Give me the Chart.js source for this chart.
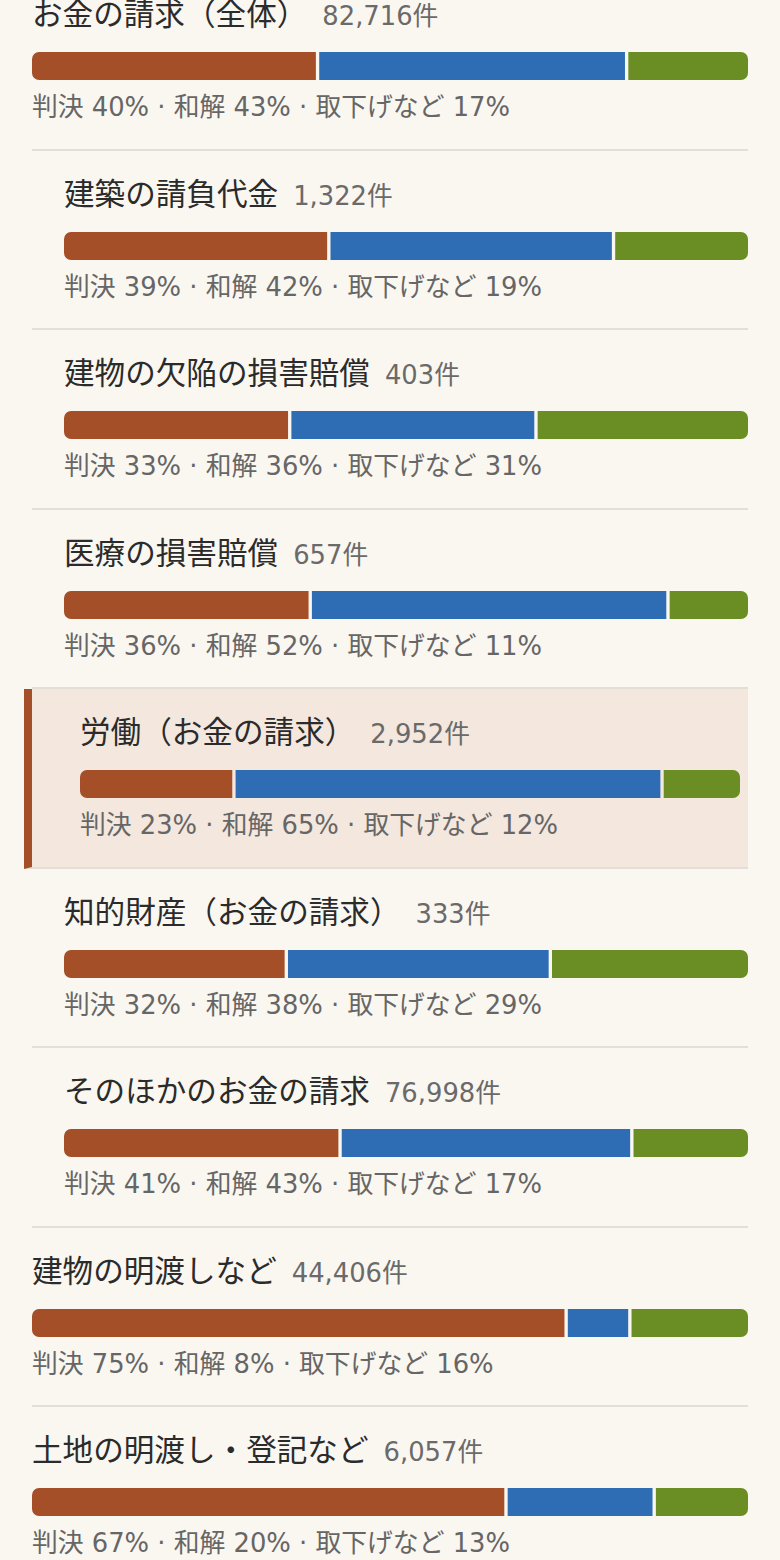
<!DOCTYPE html>
<html lang="ja">
<head>
<meta charset="utf-8">
<title>お金の請求 判決・和解・取下げの割合</title>
<script src="https://cdn.jsdelivr.net/npm/chart.js@4/dist/chart.umd.min.js"></script>
<style>
  html, body {
    margin: 0;
    padding: 0;
    background: #faf7f1;
    font-family: "DejaVu Sans", "Noto Sans CJK JP", sans-serif;
  }
  body {
    width: 780px;
    height: 1560px;
    overflow: hidden;
    position: relative;
  }
  #list {
    position: absolute;
    left: 32px;
    top: -29px;
    width: 716px;
  }
  .row {
    position: relative;
    box-sizing: border-box;
    height: 179.5px;
    border-bottom: 2px solid #e3ded6;
  }
  .row.sub { padding-left: 32px; }
  .row.hl {
    margin-left: -8px;
    border-left: 8px solid #a44f27;
    background: #f3e7de;
    padding-left: 48px;
    padding-right: 8px;
  }
  .head {
    position: absolute;
    top: 26px;
    line-height: 36px;
    white-space: nowrap;
  }
  .name {
    font-size: 30.6px;
    color: #2b2b2b;
  }
  .count {
    font-size: 25.8px;
    color: #6a6a6a;
    margin-left: 15px;
  }
  .bar {
    position: absolute;
    top: 81px;
    height: 28px;
  }
  .bar canvas { display: block; }
  .caption {
    position: absolute;
    top: 120px;
    line-height: 32px;
    font-size: 25.8px;
    color: #666;
    white-space: nowrap;
  }
</style>
</head>
<body>
<div id="list"></div>

<script>
'use strict';

// DATA

let names = [
  'お金の請求（全体）',
  '建築の請負代金',
  '建物の欠陥の損害賠償',
  '医療の損害賠償',
  '労働（お金の請求）',
  '知的財産（お金の請求）',
  'そのほかのお金の請求',
  '建物の明渡しなど',
  '土地の明渡し・登記など'
];
let caseCounts = [82716, 1322, 403, 657, 2952, 333, 76998, 44406, 6057];
let levels = [0, 1, 1, 1, 1, 1, 1, 0, 0];
let highlighted = 4;

// shares as drawn in the bars (%)
let judgment = [40.0, 38.6, 33.0, 36.0, 23.3, 32.5, 40.4, 74.6, 66.2];
let settlement = [43.3, 41.5, 36.0, 52.3, 64.8, 38.6, 42.7, 8.9, 20.7];
let withdrawn = [17.0, 19.6, 31.0, 11.7, 11.8, 28.9, 17.0, 16.5, 13.1];

// percentages as printed under each bar
let judgmentText = [40, 39, 33, 36, 23, 32, 41, 75, 67];
let settlementText = [43, 42, 36, 52, 65, 38, 43, 8, 20];
let withdrawnText = [17, 19, 31, 11, 12, 29, 17, 16, 13];

let seriesNames = ['判決', '和解', '取下げなど'];
let seriesColors = ['#a44f27', '#2e6db4', '#6a8e23'];

// DOM

let list = document.getElementById('list');

function rowWidth(i) {
  if (i === highlighted) return 660;
  if (levels[i] === 1) return 684;
  return 716;
}

function renderRow(i) {
  let row = document.createElement('div');
  row.className = 'row';
  if (levels[i] === 1) row.classList.add('sub');
  if (i === highlighted) row.classList.add('hl');

  let head = document.createElement('div');
  head.className = 'head';
  let name = document.createElement('span');
  name.className = 'name';
  name.textContent = names[i];
  let count = document.createElement('span');
  count.className = 'count';
  count.textContent = caseCounts[i].toLocaleString('en-US') + '件';
  head.appendChild(name);
  head.appendChild(count);
  row.appendChild(head);

  let barBox = document.createElement('div');
  barBox.className = 'bar';
  let canvas = document.createElement('canvas');
  canvas.width = rowWidth(i);
  canvas.height = 28;
  barBox.appendChild(canvas);
  row.appendChild(barBox);

  let caption = document.createElement('div');
  caption.className = 'caption';
  caption.textContent = seriesNames[0] + ' ' + judgmentText[i] + '% · ' +
    seriesNames[1] + ' ' + settlementText[i] + '% · ' +
    seriesNames[2] + ' ' + withdrawnText[i] + '%';
  row.appendChild(caption);

  list.appendChild(row);
  renderBar(canvas, i);
}

// CHART

function renderBar(canvas, i) {
  let values = [judgment[i], settlement[i], withdrawn[i]];
  let total = values[0] + values[1] + values[2];
  let gap = 'rgba(0,0,0,0)';

  let barObj = {
    type: 'bar',
    data: {
      labels: [names[i]],
      datasets: [{
        label: seriesNames[0],
        data: [values[0]],
        backgroundColor: seriesColors[0],
        borderColor: gap,
        borderWidth: { left: 0, right: 2, top: 0, bottom: 0 },
        borderSkipped: false,
        borderRadius: { topLeft: 7, bottomLeft: 7, topRight: 0, bottomRight: 0 }
      },
      {
        label: seriesNames[1],
        data: [values[1]],
        backgroundColor: seriesColors[1],
        borderColor: gap,
        borderWidth: { left: 2, right: 2, top: 0, bottom: 0 },
        borderSkipped: false,
        borderRadius: 0
      },
      {
        label: seriesNames[2],
        data: [values[2]],
        backgroundColor: seriesColors[2],
        borderColor: gap,
        borderWidth: { left: 2, right: 0, top: 0, bottom: 0 },
        borderSkipped: false,
        borderRadius: { topLeft: 0, bottomLeft: 0, topRight: 7, bottomRight: 7 }
      }]
    },
    options: {
      indexAxis: 'y',
      responsive: false,
      animation: false,
      layout: { padding: 0 },
      barPercentage: 1,
      categoryPercentage: 1,
      plugins: {
        legend: { display: false },
        tooltip: { enabled: false }
      },
      scales: {
        x: { stacked: true, display: false, min: 0, max: total },
        y: { stacked: true, display: false }
      }
    }
  };

  new Chart(canvas, barObj);
}

for (let i = 0; i < names.length; i++) {
  renderRow(i);
}
</script>
</body>
</html>
